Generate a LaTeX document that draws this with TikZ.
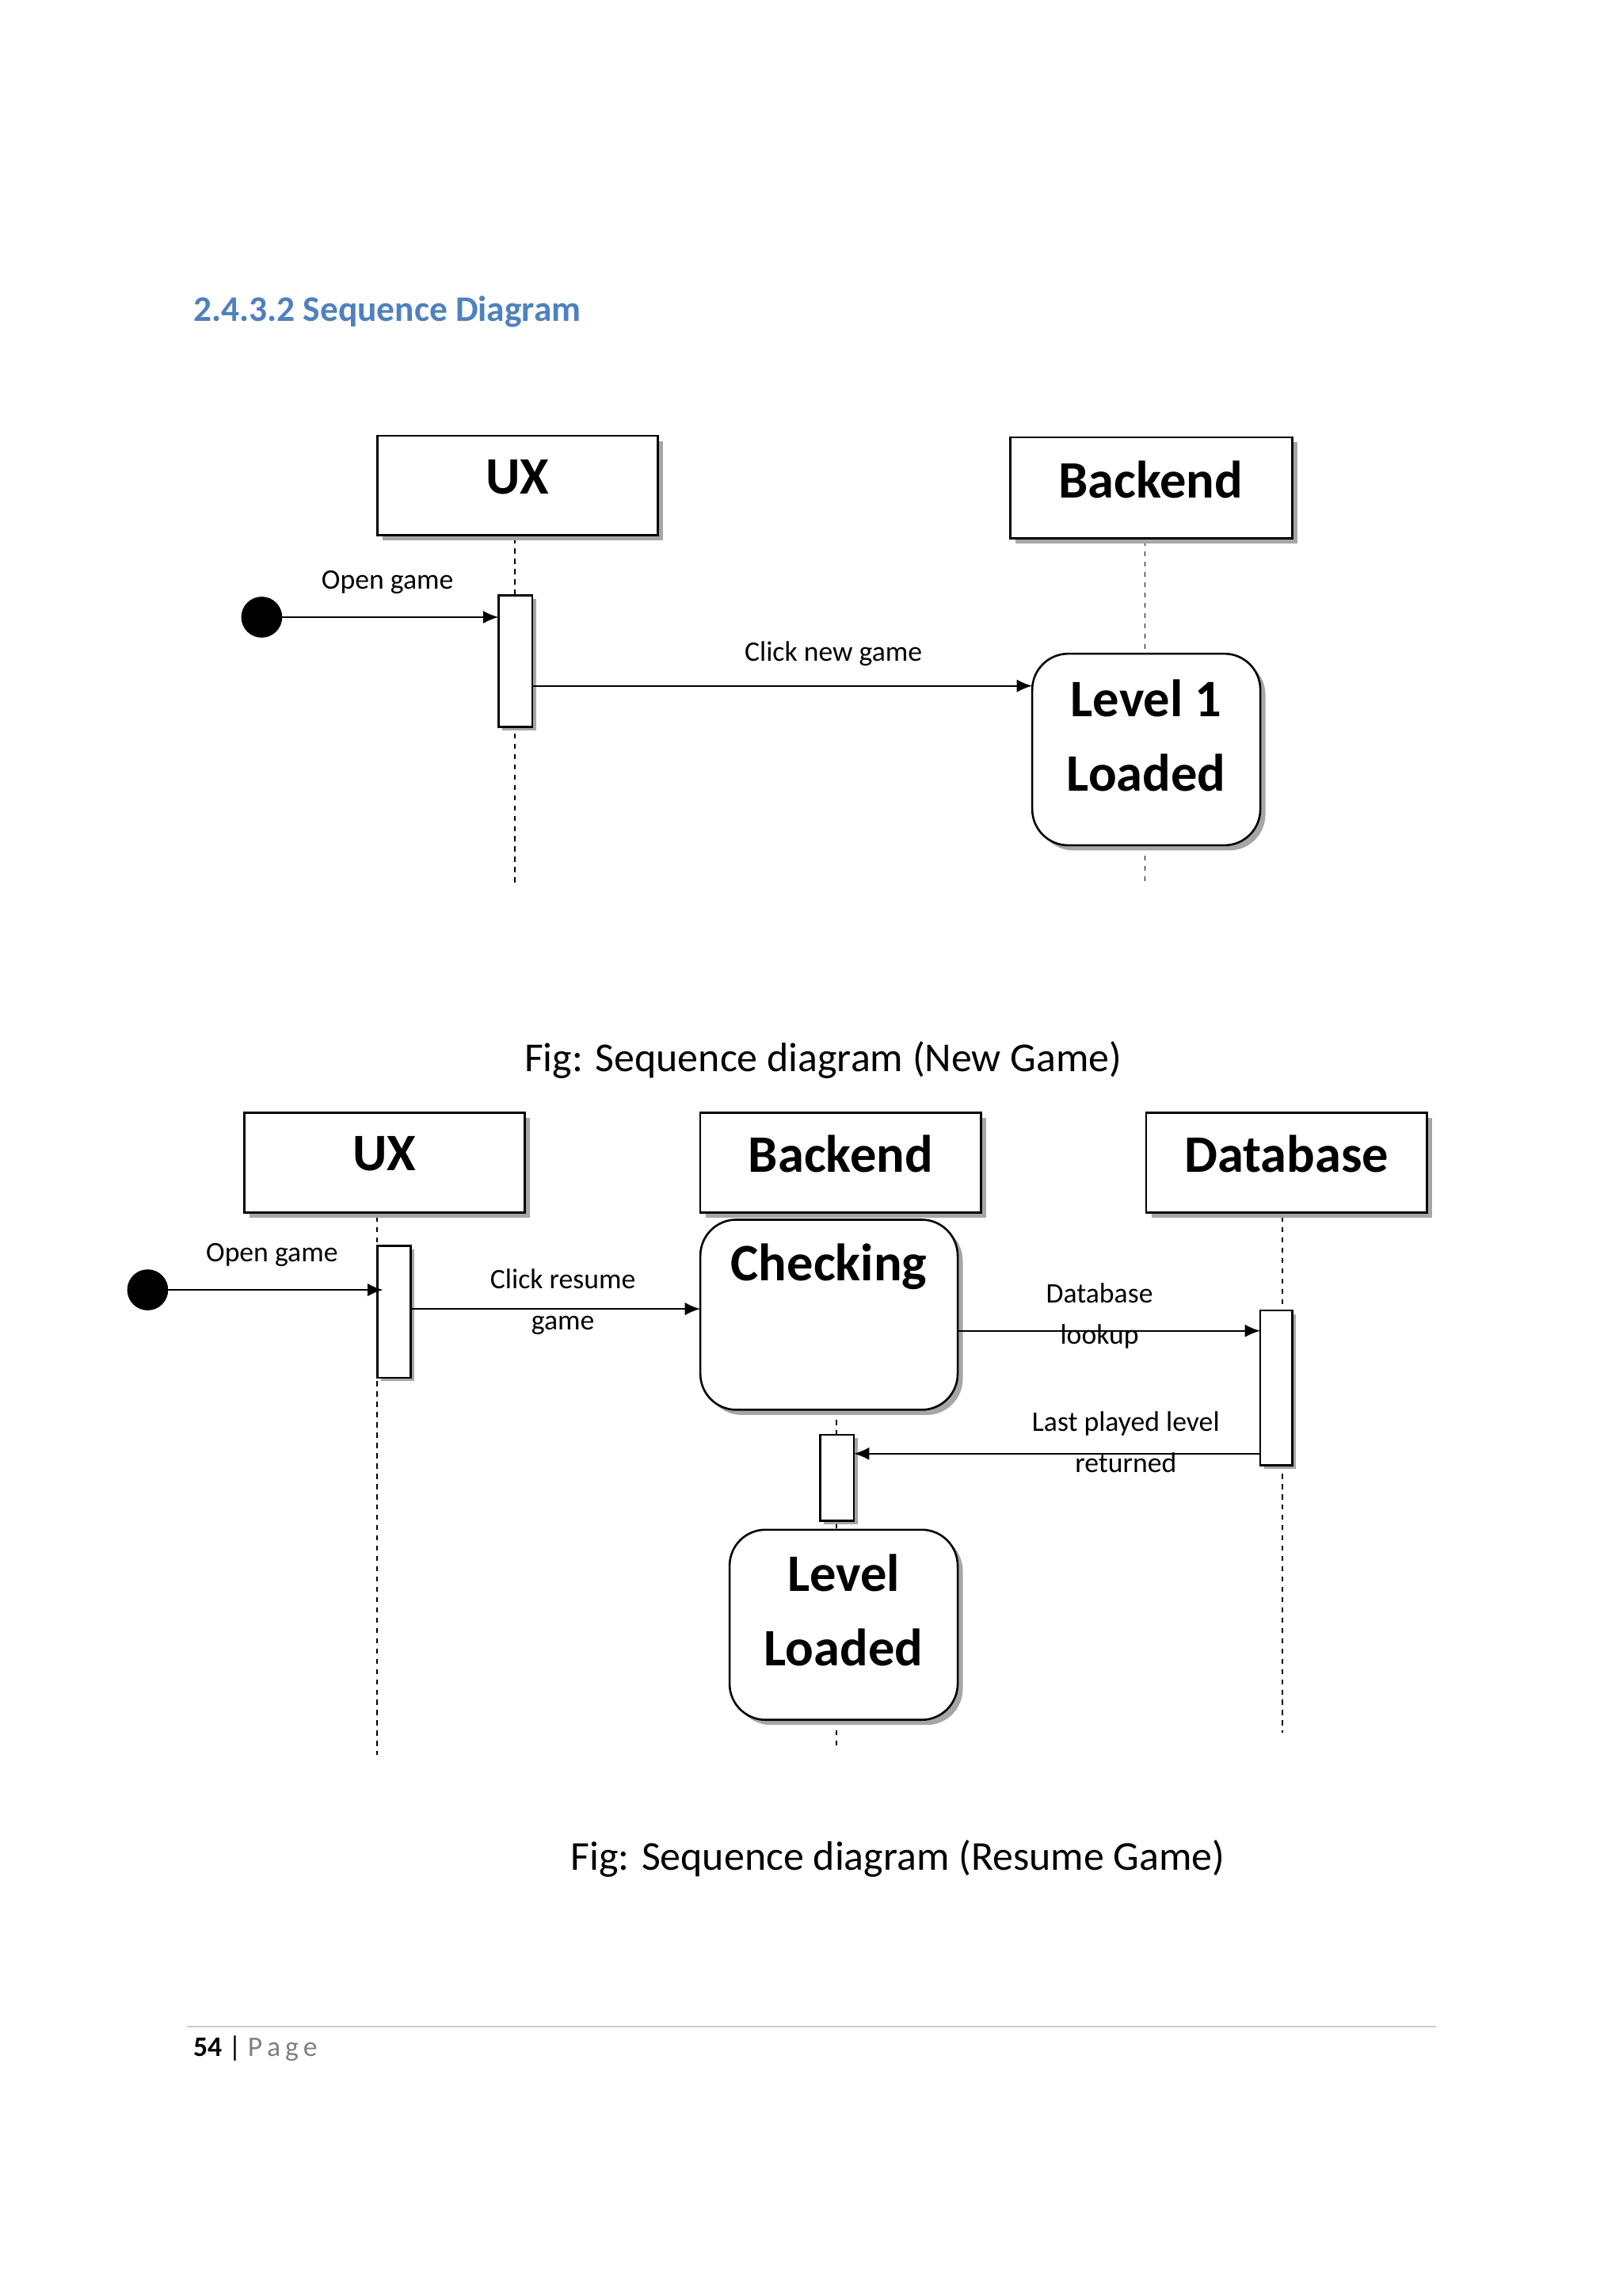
\documentclass[tikz,border=0pt]{standalone}
\usepackage{fontspec}
\setmainfont{Carlito}
\usetikzlibrary{arrows.meta,shadows}
\definecolor{headblue}{RGB}{79,129,189}
\begin{document}
\begin{tikzpicture}[x=0.02cm,y=-0.02cm,
  obj/.style={draw,fill=white,line width=0.8pt,drop shadow={shadow xshift=0.07cm,shadow yshift=-0.07cm,opacity=1,fill=gray!70}},
  act/.style={draw,fill=white,line width=0.8pt,drop shadow={shadow xshift=0.05cm,shadow yshift=-0.05cm,opacity=1,fill=gray!70}},
  big/.style={font=\fontsize{20.5}{26}\selectfont\bfseries},
  lbl/.style={font=\fontsize{11}{16}\selectfont,align=center},
  figcap/.style={font=\fontsize{16}{20}\selectfont},
  life/.style={line width=0.5pt,dash pattern=on 2pt off 2pt},
  msg/.style={-{Latex[length=6pt,width=5pt]},line width=0.7pt}]
\useasboundingbox[fill=white] (0,0) rectangle (1110,1570);
\node[anchor=west,text=headblue,font=\fontsize{14}{16}\selectfont\bfseries] (head) at (126,213) {2.4.3.2 Sequence Diagram};
% --- Diagram 1
\draw[life] (352,368) -- (352,605);
\draw[life] (783,370) -- (783,447);
\draw[life] (783,578) -- (783,605);
\draw[obj] (258,298) rectangle (450,366); \node[big] (ux1) at (354,326) {UX};
\draw[obj] (691,299) rectangle (884,368); \node[big] (be1) at (787,328) {Backend};
\draw[act] (341,407) rectangle (364,497);
\draw[obj,rounded corners=14] (706,447) rectangle (862,578);
\node[big,align=center] (lv1) at (784,503) {Level 1\\[3pt]Loaded};
\fill (179,422) circle (14); \coordinate (d1) at (193,422);
\coordinate (a1in) at (341,422);
\draw[msg] (d1) -- (a1in);
\node[lbl] at (265,398) {Open game};
\coordinate (a1out) at (364,469); \coordinate (lv1in) at (706,469);
\draw[msg] (a1out) -- (lv1in);
\node[lbl] at (570,447) {Click new game};
\node[figcap] (c1) at (563,725) {Fig: Sequence diagram (New Game)};
% --- Diagram 2
\draw[life] (258,832) -- (258,1200);
\draw[life] (877,832) -- (877,1185);
\draw[life] (572,964) -- (572,1046);
\draw[life] (572,1176) -- (572,1196);
\draw[obj] (167,761) rectangle (359,829); \node[big] (ux2) at (263,789) {UX};
\draw[obj] (479,761) rectangle (671,829); \node[big] (be2) at (575,789) {Backend};
\draw[obj] (784,761) rectangle (976,829); \node[big] (db2) at (880,789) {Database};
\draw[act] (258,852) rectangle (281,942);
\draw[obj,rounded corners=14] (479,834) rectangle (655,964);
\node[big] (chk) at (567,866) {Checking};
\draw[act] (862,896) rectangle (884,1002);
\draw[act] (561,981) rectangle (584,1040);
\draw[obj,rounded corners=14] (499,1046) rectangle (655,1176);
\node[big,align=center] (lv2) at (577,1101) {Level\\[3pt]Loaded};
\fill (101,882) circle (14); \coordinate (d2) at (115,882);
\coordinate (a2in) at (262,882);
\draw[msg] (d2) -- (a2in);
\node[lbl] at (186,858) {Open game};
\coordinate (a2out) at (281,895); \coordinate (chkin) at (479,895);
\draw[msg] (a2out) -- (chkin);
\node[lbl] at (385,890) {Click resume\\game};
\coordinate (chkout) at (655,910); \coordinate (dbin) at (862,910);
\draw[msg] (chkout) -- (dbin);
\node[lbl] at (752,900) {Database\\lookup};
\coordinate (dbout) at (862,994); \coordinate (a3in) at (584,994);
\draw[msg] (dbout) -- (a3in);
\node[lbl] at (770,986) {Last played level\\returned};
\node[figcap] (c2) at (614,1271) {Fig: Sequence diagram (Resume Game)};
% footer
\draw[gray!40,line width=0.6pt] (128,1386) -- (982,1386);
\node[anchor=west,font=\fontsize{11}{13}\selectfont] (pg) at (126,1401) {\textbf{54} | \textcolor{gray}{P\,a\,g\,e}};
\end{tikzpicture}
\end{document}
